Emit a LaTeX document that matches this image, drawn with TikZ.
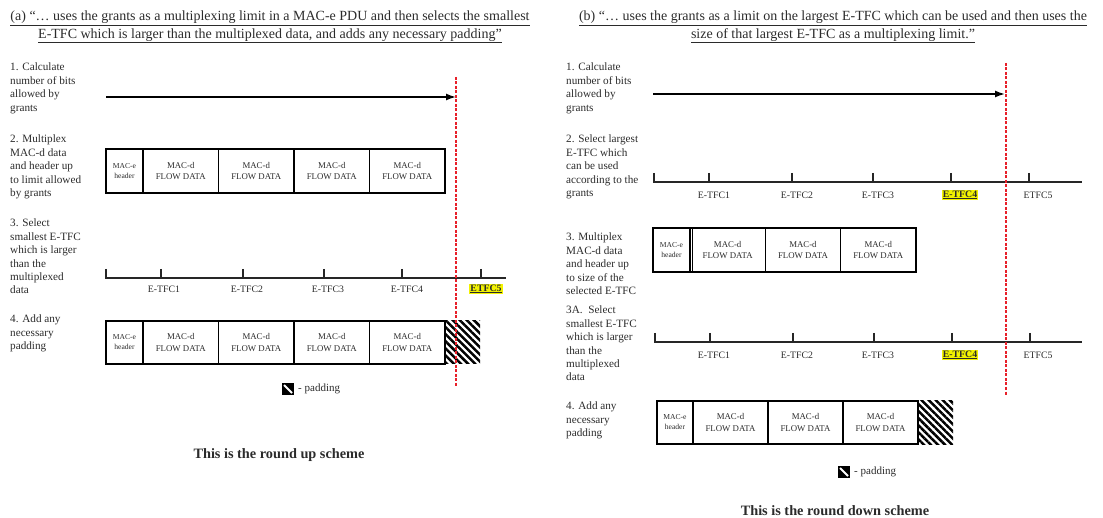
\documentclass[tikz,border=0pt]{standalone}
\usepackage{fontspec}
\setmainfont{Liberation Serif}
\usetikzlibrary{positioning, arrows.meta, patterns.meta}
\definecolor{InkGray}{HTML}{2B2B2B}
\definecolor{MarkRed}{HTML}{E8202A}
\definecolor{HiYellow}{HTML}{F2F200}

\begin{document}
\begin{tikzpicture}[
    x=1pt, y=-1pt,
    every node/.style={text=InkGray},
    hdr/.style={align=center, inner sep=0pt, font=\fontsize{14}{17.5}\selectfont},
    steplbl/.style={anchor=north west, inner sep=0pt, align=left,
                    font=\fontsize{11.2}{13.4}\selectfont},
    cell/.style={draw=black, line width=1.4pt, inner sep=0pt, outer sep=0pt,
                 align=center, minimum height=44pt},
    machdr/.style={cell, minimum width=37pt, font=\fontsize{7.6}{10}\selectfont},
    flow/.style={cell, minimum width=75.5pt, font=\fontsize{8.8}{11.5}\selectfont},
    pad/.style={inner sep=0pt, outer sep=0pt, minimum width=35pt, minimum height=43pt,
                pattern={Lines[angle=-45, distance=5pt, line width=2.5pt]}},
    padicon/.style={draw=black, fill=black, line width=1pt, inner sep=0pt, minimum size=11pt},
    arr/.style={-{Latex[length=10pt, width=7pt]}, line width=1.6pt},
    axis/.style={line width=1.3pt, black!85},
    redline/.style={MarkRed, line width=1.1pt, dash pattern=on 3pt off 1.5pt},
    lbl/.style={inner sep=0pt, font=\fontsize{9.8}{11}\selectfont},
    hilite/.style={lbl, fill=HiYellow, inner sep=1pt, font=\fontsize{9.8}{11}\selectfont\bfseries},
    keylbl/.style={inner sep=0pt, font=\fontsize{11}{13}\selectfont},
    title/.style={inner sep=0pt, font=\fontsize{14.3}{16}\selectfont\bfseries}
  ]
    \useasboundingbox (0,0) rectangle (1103,518);

    % ---------- (a) round up ----------
    \node[hdr] (ahead) at (270,27) {\underline{(a) “… uses the grants as a multiplexing limit in a MAC-e PDU and then selects the smallest}\\
      \underline{E-TFC which is larger than the multiplexed data, and adds any necessary padding”}};

    \node[steplbl] (a1) at (10,63)  {1. Calculate\\number of bits\\allowed by\\grants};
    \node[steplbl] (a2) at (10,135) {2. Multiplex\\MAC-d data\\and header up\\to limit allowed\\by grants};
    \node[steplbl] (a3) at (10,219) {3. Select\\smallest E-TFC\\which is larger\\than the\\multiplexed\\data};
    \node[steplbl] (a4) at (10,315) {4. Add any\\necessary\\padding};

    % step 1: grant limit
    \coordinate (a1from) at (106,97);
    \coordinate (a1to)   at (456,97);
    \draw[arr] (a1from) -- (a1to);

    % step 2: multiplexed PDU
    \node[machdr] (a2h) at (124.5,171) {MAC-e\\header};
    \node[flow, right=0pt of a2h]  (a2f1) {MAC-d\\FLOW DATA};
    \node[flow, right=0pt of a2f1] (a2f2) {MAC-d\\FLOW DATA};
    \node[flow, right=0pt of a2f2] (a2f3) {MAC-d\\FLOW DATA};
    \node[flow, right=0pt of a2f3] (a2f4) {MAC-d\\FLOW DATA};

    % step 3: E-TFC scale
    \coordinate (a3start) at (106,278);
    \coordinate (a3end)   at (506,278);
    \draw[axis] (106,269) -- (a3start) -- (a3end);
    \foreach \tx in {161,243,324,402,481}
      \draw[axis] (\tx,269) -- (\tx,278);
    \node[lbl] (a3t1) at (164,289) {E-TFC1};
    \node[lbl] (a3t2) at (247,289) {E-TFC2};
    \node[lbl] (a3t3) at (328,289) {E-TFC3};
    \node[lbl] (a3t4) at (407,289) {E-TFC4};
    \node[hilite] (a3t5) at (486,289) {\underline{ETFC5}};

    % step 4: padded PDU
    \node[machdr, minimum height=43pt] (a4h) at (124.5,342.5) {MAC-e\\header};
    \node[flow, minimum height=43pt, right=0pt of a4h]  (a4f1) {MAC-d\\FLOW DATA};
    \node[flow, minimum height=43pt, right=0pt of a4f1] (a4f2) {MAC-d\\FLOW DATA};
    \node[flow, minimum height=43pt, right=0pt of a4f2] (a4f3) {MAC-d\\FLOW DATA};
    \node[flow, minimum height=43pt, right=0pt of a4f3] (a4f4) {MAC-d\\FLOW DATA};
    \node[pad, right=0pt of a4f4] (a4p) {};

    % limit line
    \coordinate (alimtop) at (456,77);
    \coordinate (alimbot) at (456,386);
    \draw[redline] (alimtop) -- (alimbot);

    % key
    \node[padicon] (akey) at (288,389) {};
    \draw[white, line width=2pt] ([shift={(2,2)}]akey.north west) -- ([shift={(-2,-2)}]akey.south east);
    \node[keylbl, right=4pt of akey] (akeytxt) {- padding};

    \node[title] (atitle) at (279,455) {This is the round up scheme};

    % ---------- (b) round down ----------
    \node[hdr] (bhead) at (833,27) {\underline{(b) “… uses the grants as a limit on the largest E-TFC which can be used and then uses the}\\
      \underline{size of that largest E-TFC as a multiplexing limit.”}};

    \node[steplbl] (b1)  at (566,63)  {1. Calculate\\number of bits\\allowed by\\grants};
    \node[steplbl] (b2)  at (566,135) {2. Select largest\\E-TFC which\\can be used\\according to the\\grants};
    \node[steplbl] (b3)  at (566,233) {3. Multiplex\\MAC-d data\\and header up\\to size of the\\selected E-TFC};
    \node[steplbl] (b3a) at (566,306) {3A.\ \ Select\\smallest E-TFC\\which is larger\\than the\\multiplexed\\data};
    \node[steplbl] (b4)  at (566,402) {4. Add any\\necessary\\padding};

    % step 1: grant limit
    \coordinate (b1from) at (653,94);
    \coordinate (b1to)   at (1005,94);
    \draw[arr] (b1from) -- (b1to);

    % step 2: E-TFC scale
    \coordinate (b2start) at (654,182);
    \coordinate (b2end)   at (1082,182);
    \draw[axis] (654,173) -- (b2start) -- (b2end);
    \foreach \tx in {709,792,873,951,1029}
      \draw[axis] (\tx,173) -- (\tx,182);
    \node[lbl] (b2t1) at (714,195) {E-TFC1};
    \node[lbl] (b2t2) at (797,195) {E-TFC2};
    \node[lbl] (b2t3) at (878,195) {E-TFC3};
    \node[hilite] (b2t4) at (960,195) {\underline{E-TFC4}};
    \node[lbl] (b2t5) at (1038,195) {ETFC5};

    % step 3: multiplexed PDU
    \node[machdr] (b3h) at (671.5,250) {MAC-e\\header};
    \node[flow, minimum width=75.3pt, right=0pt of b3h]  (b3f1) {MAC-d\\FLOW DATA};
    \node[flow, minimum width=75.3pt, right=0pt of b3f1] (b3f2) {MAC-d\\FLOW DATA};
    \node[flow, minimum width=75.3pt, right=0pt of b3f2] (b3f3) {MAC-d\\FLOW DATA};
    \draw[line width=0.9pt] ([xshift=2.2pt]b3h.north east) -- ([xshift=2.2pt]b3h.south east);

    % step 3A: E-TFC scale
    \coordinate (b3astart) at (655,342);
    \coordinate (b3aend)   at (1082,342);
    \draw[axis] (655,333) -- (b3astart) -- (b3aend);
    \foreach \tx in {710,793,874,952,1030}
      \draw[axis] (\tx,333) -- (\tx,342);
    \node[lbl] (b3at1) at (714,355) {E-TFC1};
    \node[lbl] (b3at2) at (797,355) {E-TFC2};
    \node[lbl] (b3at3) at (878,355) {E-TFC3};
    \node[hilite] (b3at4) at (960,355) {\underline{E-TFC4}};
    \node[lbl] (b3at5) at (1038,355) {ETFC5};

    % step 4: padded PDU
    \node[machdr, minimum width=36pt, minimum height=43pt] (b4h) at (675,422.5) {MAC-e\\header};
    \node[flow, minimum width=75pt, minimum height=43pt, right=0pt of b4h]  (b4f1) {MAC-d\\FLOW DATA};
    \node[flow, minimum width=75pt, minimum height=43pt, right=0pt of b4f1] (b4f2) {MAC-d\\FLOW DATA};
    \node[flow, minimum width=75pt, minimum height=43pt, right=0pt of b4f2] (b4f3) {MAC-d\\FLOW DATA};
    \node[pad, right=0pt of b4f3] (b4p) {};
    \draw[line width=2.8pt] (b4h.north east) -- (b4h.south east);

    % limit line
    \coordinate (blimtop) at (1006,63);
    \coordinate (blimbot) at (1006,395);
    \draw[redline] (blimtop) -- (blimbot);

    % key
    \node[padicon] (bkey) at (844,472) {};
    \draw[white, line width=2pt] ([shift={(2,2)}]bkey.north west) -- ([shift={(-2,-2)}]bkey.south east);
    \node[keylbl, right=4pt of bkey] (bkeytxt) {- padding};

    \node[title] (btitle) at (835,511) {This is the round down scheme};
  \end{tikzpicture}
\end{document}
